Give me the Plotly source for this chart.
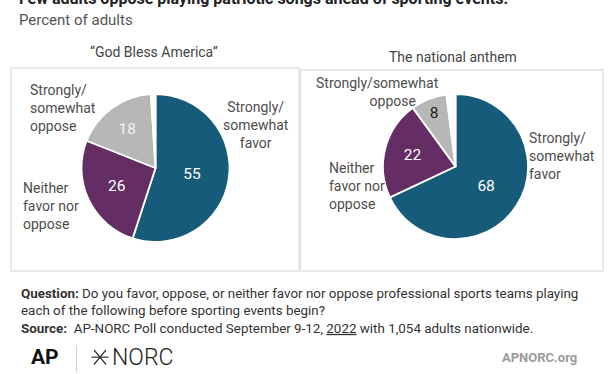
import plotly.graph_objects as go

# ---- data ----
categories = ["Strongly/somewhat favor", "Neither favor nor oppose", "Strongly/somewhat oppose", "No answer"]
god_bless_values = [55, 26, 18, 1]
anthem_values = [68, 22, 8, 2]
panel_titles = ["\u201cGod Bless America\u201d", "The national anthem"]

slice_colors = ["#175b7b", "#642d63", "#b7b7b7", "#ffffff"]
value_text_colors = [["#ffffff", "#ffffff", "#f2f2f2", "#ffffff"],
                     ["#ffffff", "#ffffff", "#222222", "#ffffff"]]

W, H = 612, 374
FONT = "Roboto"


def px(x):
    return x / W


def py(y):
    return (H - y) / H


fig = go.Figure()

pies = [
    dict(values=god_bless_values, cx=155.5, cy=168, r=74, tc=value_text_colors[0]),
    dict(values=anthem_values, cx=455.5, cy=166.5, r=72.5, tc=value_text_colors[1]),
]
for p in pies:
    texts = [str(v) if i < 3 else "" for i, v in enumerate(p["values"])]
    fig.add_trace(go.Pie(
        labels=categories,
        values=p["values"],
        text=texts,
        textinfo="text",
        textposition="inside",
        insidetextorientation="horizontal",
        textfont=dict(family=FONT, size=15.5, color=p["tc"]),
        sort=False,
        direction="clockwise",
        rotation=0,
        marker=dict(colors=slice_colors, line=dict(color="#ffffff", width=1.8)),
        domain=dict(x=[px(p["cx"] - p["r"]), px(p["cx"] + p["r"])],
                    y=[py(p["cy"] + p["r"]), py(p["cy"] - p["r"])]),
        hoverinfo="label+value",
        showlegend=False,
    ))

annotations = []


def ann(text, x, y, size=14, color="#4d4d4d", xanchor="left", align="left", yanchor="middle", weight=None):
    font = dict(family=FONT, size=size, color=color)
    if weight is not None:
        font["weight"] = weight
    annotations.append(dict(text=text, x=px(x), y=py(y), xref="paper", yref="paper",
                            xanchor=xanchor, yanchor=yanchor, align=align, showarrow=False,
                            font=font))


# title (cut off at top) and subtitle
ann("<b>Few adults oppose playing patriotic songs ahead of sporting events.</b>", 17, -1,
    size=16, color="#222222")
ann("Percent of adults", 17, 20, size=15, color="#555555")

# panel titles
ann(panel_titles[0], 154, 52, size=14, color="#444444", xanchor="center", align="center")
ann(panel_titles[1], 453, 57, size=14, color="#444444", xanchor="center", align="center")

# slice category labels - left
ann("Strongly/<br>somewhat<br>favor", 256, 125, xanchor="center", align="center")
ann("Strongly/<br>somewhat<br>oppose", 28, 108)
ann("Neither<br>favor nor<br>oppose", 21, 206)
# slice category labels - right
ann("Strongly/somewhat<br>" + "\u00a0" * 9 + "oppose", 377, 92, xanchor="center", align="center")
ann("Strongly/<br>somewhat<br>favor", 527, 156)
ann("Neither<br>favor nor<br>oppose", 327, 186)

# notes
ann("<b>Question:</b> Do you favor, oppose, or neither favor nor oppose professional sports teams playing"
    "<br>each of the following before sporting events begin?"
    "<br><b>Source:</b>  AP-NORC Poll conducted September 9-12, <u>2022</u> with 1,054 adults nationwide.",
    19, 311, size=13.4, color="#333333")

# footer
ann("<b>AP</b>", 29, 357, size=21, color="#111111")
ann("NORC", 110, 357, size=23, color="#222222", weight=300)
ann("<b>APNORC.org</b>", 579, 357, size=13, color="#9a9a9a", xanchor="right", align="right")

shapes = [
    dict(type="rect", xref="paper", yref="paper", x0=px(11), x1=px(299), y0=py(271), y1=py(68),
         line=dict(color="#e2e2e2", width=1.5), layer="below"),
    dict(type="rect", xref="paper", yref="paper", x0=px(300.5), x1=px(603), y0=py(271), y1=py(70),
         line=dict(color="#e2e2e2", width=1.5), layer="below"),
    dict(type="line", xref="paper", yref="paper", x0=px(76.5), x1=px(76.5), y0=py(345), y1=py(372),
         line=dict(color="#d0d0d0", width=1)),
    # NORC logo mark
    dict(type="line", xref="paper", yref="paper", x0=px(94), x1=px(106), y0=py(350), y1=py(364.5),
         line=dict(color="#333333", width=1.2)),
    dict(type="line", xref="paper", yref="paper", x0=px(94), x1=px(106), y0=py(364.5), y1=py(350),
         line=dict(color="#333333", width=1.2)),
    dict(type="line", xref="paper", yref="paper", x0=px(91.5), x1=px(108.5), y0=py(357.2), y1=py(357.2),
         line=dict(color="#333333", width=1.2)),
]

fig.update_layout(
    width=W, height=H,
    margin=dict(l=0, r=0, t=0, b=0),
    paper_bgcolor="#ffffff",
    plot_bgcolor="#ffffff",
    annotations=annotations,
    shapes=shapes,
    font=dict(family=FONT),
)

fig.write_html("out.html", config={"displayModeBar": False},
               post_script="document.body.style.margin='0';document.body.style.padding='0';")
